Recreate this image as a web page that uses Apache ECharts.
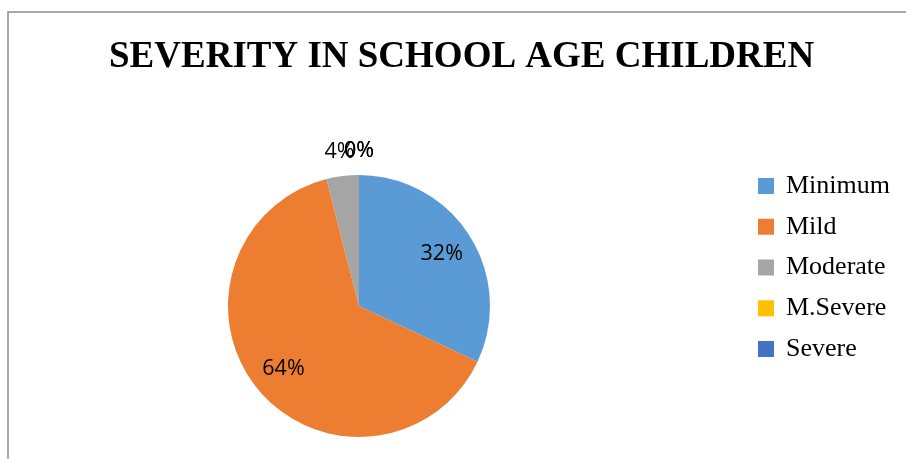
<!DOCTYPE html>
<html>
<head>
<meta charset="utf-8">
<script src="https://cdn.jsdelivr.net/npm/echarts@6/dist/echarts.min.js"></script>
<style>
  html, body { margin: 0; padding: 0; background: #ffffff; }
  #chart { width: 906px; height: 459px; }
</style>
</head>
<body>
<div id="chart"></div>
<script>
// Severity distribution (percent of children)
const categories = ['Minimum', 'Mild', 'Moderate', 'M.Severe', 'Severe'];
const shares = [32, 64, 4, 0, 0];
const sliceColors = ['#5B9BD5', '#ED7D31', '#A5A5A5', '#FFC000', '#4472C4'];
const chartTitle = 'SEVERITY IN SCHOOL AGE CHILDREN';

const pieCenter = [359, 306];
const pieRadius = 131;

const labelFont = { fontFamily: 'Open Sans', fontSize: 21.5, color: '#000000', opacity: 1 };

// Middle of each slice, in percent of the full turn
const sliceMids = shares.map((v, i) =>
  shares.slice(0, i).reduce((a, b) => a + b, 0) + v / 2);

const chart = echarts.init(document.getElementById('chart'), null, { renderer: 'canvas' });

chart.setOption({
  backgroundColor: '#ffffff',
  animation: false,
  title: {
    text: chartTitle,
    left: 104,
    top: 34,
    textStyle: {
      fontFamily: 'Liberation Serif',
      fontWeight: 'bold',
      fontSize: 37,
      color: '#000000'
    }
  },
  legend: {
    orient: 'vertical',
    left: 753,
    top: 168,
    itemWidth: 16,
    itemHeight: 16,
    itemGap: 14.75,
    icon: 'rect',
    data: categories,
    textStyle: {
      fontFamily: 'Liberation Serif',
      fontSize: 26,
      color: '#000000',
      padding: [0, 0, 0, 7]
    }
  },
  // polar frame sharing the pie's centre: used to set the small-slice labels just above the rim
  polar: { center: pieCenter, radius: 155 },
  angleAxis: {
    type: 'value', min: 0, max: 100, startAngle: 90, clockwise: true,
    axisLine: { show: false }, axisTick: { show: false },
    axisLabel: { show: false }, splitLine: { show: false }, splitArea: { show: false }
  },
  radiusAxis: {
    type: 'value', min: 0, max: 1,
    axisLine: { show: false }, axisTick: { show: false },
    axisLabel: { show: false }, splitLine: { show: false }, splitArea: { show: false }
  },
  graphic: [{
    type: 'rect',
    silent: true,
    shape: { x: 8, y: 12, width: 1000, height: 1000 },
    style: { fill: 'none', stroke: '#8c8c8c', lineWidth: 1.5 }
  }],
  series: [
    {
      type: 'pie',
      center: pieCenter,
      radius: pieRadius,
      startAngle: 90,
      clockwise: true,
      silent: true,
      label: { show: false },
      labelLine: { show: false },
      itemStyle: { borderWidth: 0 },
      data: categories.map((name, i) => ({
        name,
        value: shares[i],
        itemStyle: { color: sliceColors[i] }
      }))
    },
    // transparent copy whose 'inside' labels land at ~72% of the pie radius
    {
      type: 'pie',
      center: pieCenter,
      radius: [0, 190],
      startAngle: 90,
      clockwise: true,
      silent: true,
      avoidLabelOverlap: false,
      itemStyle: { color: 'rgba(0,0,0,0)', borderWidth: 0 },
      label: Object.assign({ position: 'inside', formatter: '{c}%' }, labelFont),
      labelLine: { show: false },
      emphasis: { disabled: true },
      data: categories.map((name, i) => ({
        name,
        value: shares[i],
        label: { show: shares[i] >= 10 }
      }))
    },
    // labels for the thin slices, placed outside the rim
    {
      type: 'scatter',
      coordinateSystem: 'polar',
      silent: true,
      z: 10,
      symbol: 'circle',
      symbolSize: 0,
      itemStyle: { color: '#000000' },
      label: Object.assign({
        show: true,
        position: 'inside',
        textBorderWidth: 0,
        formatter: p => shares[p.dataIndex] + '%'
      }, labelFont),
      emphasis: { disabled: true },
      data: categories.map((name, i) => ({
        name,
        value: shares[i] < 10 ? [1, sliceMids[i]] : [NaN, NaN]
      }))
    }
  ]
});
</script>
</body>
</html>
